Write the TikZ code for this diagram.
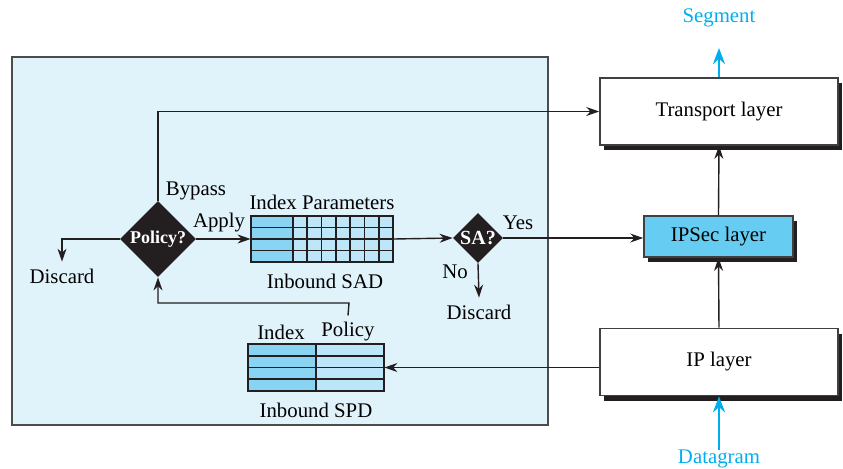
\documentclass[tikz,border=0pt]{standalone}
\usepackage{fontspec}
\setmainfont{Liberation Serif}
\usepackage{tikz}
\usetikzlibrary{shapes.geometric,arrows.meta,shadows}
\definecolor{inkdark}{HTML}{231F20}
\definecolor{boxbg}{HTML}{E0F2FA}
\definecolor{ipsecfill}{HTML}{66CCF2}
\definecolor{celldark}{HTML}{88D4F2}
\definecolor{celllight}{HTML}{BDE6F8}
\definecolor{flowcyan}{HTML}{00AEEF}

\tikzset{
  layer/.style={draw=black!75, line width=0.8pt, fill=white, minimum width=119pt,
    minimum height=33.5pt, inner sep=0pt,
    general shadow={fill=inkdark, shadow xshift=2pt, shadow yshift=-2.5pt}},
  decide/.style={diamond, fill=inkdark, text=white, inner sep=0pt, aspect=1,
    font=\fontsize{9}{10}\selectfont\bfseries},
  tblline/.style={draw=inkdark, line width=0.8pt},
  link/.style={draw=inkdark, line width=0.7pt, -{Stealth[length=6.5pt,width=4.5pt]}},
  flow/.style={draw=flowcyan, line width=1.4pt, -{Stealth[length=8pt,width=6pt]}},
  flowtext/.style={text=flowcyan},
}

\begin{document}
\begin{tikzpicture}[x=0.5pt, y=-0.5pt, font=\fontsize{10.4}{12}\selectfont]
    \useasboundingbox (0,0) rectangle (843,468);

    % Host box
    \draw[fill=boxbg, draw=black!70, line width=0.9pt] (12,57) rectangle (548,425);

    % Layers
    \node[layer] (trans) at (719,111.5) {Transport layer};
    \node[layer, fill=ipsecfill, minimum width=74.5pt, minimum height=20.5pt] (ipsec) at (718.5,236.5) {IPSec layer};
    \node[layer] (ip) at (719,362) {IP layer};

    % Decisions
    \node[decide, minimum width=38pt, minimum height=38pt] (pol) at (158,239) {Policy?};
    \node[decide, minimum width=25pt, minimum height=25pt, font=\fontsize{10}{11}\selectfont\bfseries] (sa) at (478,238) {SA?};

    % Inbound SAD
    \node[minimum width=71pt, minimum height=23pt, inner sep=0pt] (sad) at (322,239) {};
    \fill[celldark] (251,216) rectangle (293,262);
    \fill[celllight] (293,216) rectangle (393,262);
    \foreach \y in {227.5,239,250.5}
        \draw[tblline] (251,\y) -- (393,\y);
    \foreach \i in {1,...,6}
        \draw[tblline] ({293+\i*100/7},216) -- ++(0,46);
    \draw[tblline] (293,216) -- (293,262);
    \draw[tblline] (251,216) rectangle (393,262);

    % Inbound SPD
    \node[minimum width=68pt, minimum height=23.5pt, inner sep=0pt] (spd) at (316,367.5) {};
    \fill[celldark] (248,344) rectangle (316,391);
    \fill[celllight] (316,344) rectangle (384,391);
    \foreach \y in {355.75,367.5,379.25}
        \draw[tblline] (248,\y) -- (384,\y);
    \draw[tblline] (316,344) -- (316,391);
    \draw[tblline] (248,344) rectangle (384,391);

    % Labels
    \node (sadh) at (322,202) {Index Parameters};
    \node (sadf) at (325,281) {Inbound SAD};
    \node (spdi) at (281,332) {Index};
    \node (spdp) at (348,332) {Policy};
    \node (spdf) at (316,410) {Inbound SPD};
    \node (byp) at (196,191) {Bypass};
    \node (app) at (219,223) {Apply};
    \node (yes) at (518,223) {Yes};
    \node (no) at (455,272) {No};
    \node (discl) at (62,276) {Discard};
    \node (discr) at (479,312) {Discard};
    \node[flowtext] (seg) at (719,18) {Segment};
    \node[flowtext] (dgram) at (719,459) {Datagram};
    \coordinate (segtip) at (719,48);
    \coordinate (dgtail) at (719,450);
    \coordinate (fb) at (349,303);

    % Connectors
    \draw[link] (pol.north) |- (trans.west);
    \draw[link] (pol.west) -| (discl.north);
    \draw[link] (pol.east) -- (sad.west);
    \draw[link] (sad.east) -- (sa.west);
    \draw[link] (sa.east) -- (sa.east -| ipsec.west);
    \draw[link] (sa.south) -- (discr.north);
    \draw[link] (ip.west |- spd.east) -- (spd.east);
    \draw[link] (spdp.north) -- (fb) -| (pol.south);
    \draw[link] (ip.north) -- (ipsec.south);
    \draw[link] (ipsec.north) -- (trans.south);
    \draw[flow] (trans.north) -- (segtip);
    \draw[flow] (dgtail) -- (ip.south);
\end{tikzpicture}
\end{document}
